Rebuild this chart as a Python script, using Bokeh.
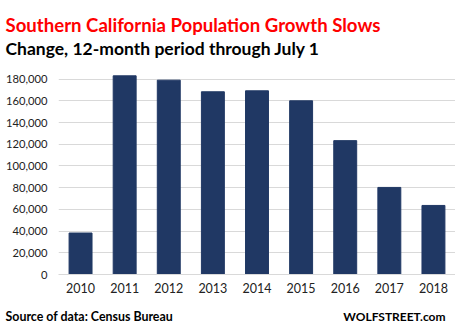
from bokeh.plotting import figure
from bokeh.layouts import column, row
from bokeh.models import Label, NumeralTickFormatter, SingleIntervalTicker, Range1d, FactorRange
from bokeh.embed import file_html
from bokeh.resources import INLINE

years = ["2010", "2011", "2012", "2013", "2014", "2015", "2016", "2017", "2018"]
growth = [38200, 183000, 179000, 168300, 169200, 160000, 123300, 80200, 63600]

title_text = "Southern California Population Growth Slows"
subtitle_text = "Change, 12-month period through July 1"
source_text = "Source of data: Census Bureau"
brand_text = "WOLFSTREET.com"

FONT = "Lato"
W = 455


def text_panel(h):
    f = figure(width=W, height=h, x_range=Range1d(0, W), y_range=Range1d(0, h),
               x_axis_location=None, y_axis_location=None,
               output_backend="svg", toolbar_location=None,
               min_border_left=0, min_border_right=0, min_border_top=0, min_border_bottom=0)
    f.grid.visible = False
    f.outline_line_color = None
    f.background_fill_color = "white"
    f.border_fill_color = "white"
    return f


def add_text(f, x, y, text, size, color, align="left"):
    f.add_layout(Label(x=x, y=y, x_units="data", y_units="data",
                       text=text, text_font=FONT, text_font_style="bold",
                       text_font_size=size, text_color=color,
                       text_baseline="alphabetic", text_align=align))


# header (canvas rows 0..60)
head = text_panel(60)
add_text(head, 5, 60 - 24, title_text, "18.6px", "#ff0000")
add_text(head, 5, 60 - 48.3, subtitle_text, "17.5px", "#000000")

# chart (canvas rows 60..305)
p = figure(width=W, height=245, x_range=FactorRange(*years), y_range=Range1d(0, 192500),
           output_backend="svg", toolbar_location=None,
           min_border_left=58, min_border_right=0, min_border_top=5, min_border_bottom=31)
p.vbar(x=years, top=growth, width=0.52, color="#203864")

p.outline_line_color = None
p.background_fill_color = "white"
p.border_fill_color = "white"
p.xgrid.grid_line_color = None
p.ygrid.grid_line_color = "#d9d9d9"
p.ygrid.grid_line_width = 1

p.yaxis.ticker = SingleIntervalTicker(interval=20000)
p.yaxis.formatter = NumeralTickFormatter(format="0,0")
p.yaxis.axis_line_color = None
p.yaxis.major_tick_line_color = None
p.yaxis.minor_tick_line_color = None
p.yaxis.major_tick_out = 0
p.yaxis.major_tick_in = 0
p.yaxis.major_label_text_font = FONT
p.yaxis.major_label_text_font_size = "11.2px"
p.yaxis.major_label_text_color = "#222222"
p.yaxis.major_label_standoff = 7

p.xaxis.axis_line_color = "#d9d9d9"
p.xaxis.major_tick_line_color = None
p.xaxis.minor_tick_line_color = None
p.xaxis.major_tick_out = 0
p.xaxis.major_tick_in = 0
p.xaxis.major_label_text_font = FONT
p.xaxis.major_label_text_font_size = "12.5px"
p.xaxis.major_label_text_color = "#222222"
p.xaxis.major_label_standoff = 8

# footer (canvas rows 305..330)
foot = text_panel(25)
add_text(foot, 5, 14.5, source_text, "12.4px", "#000000")
add_text(foot, 445, 14.5, brand_text, "12px", "#000000", align="right")

layout = column(row(head), p, row(foot), spacing=0)
open("out.html", "w").write(file_html(layout, INLINE))
